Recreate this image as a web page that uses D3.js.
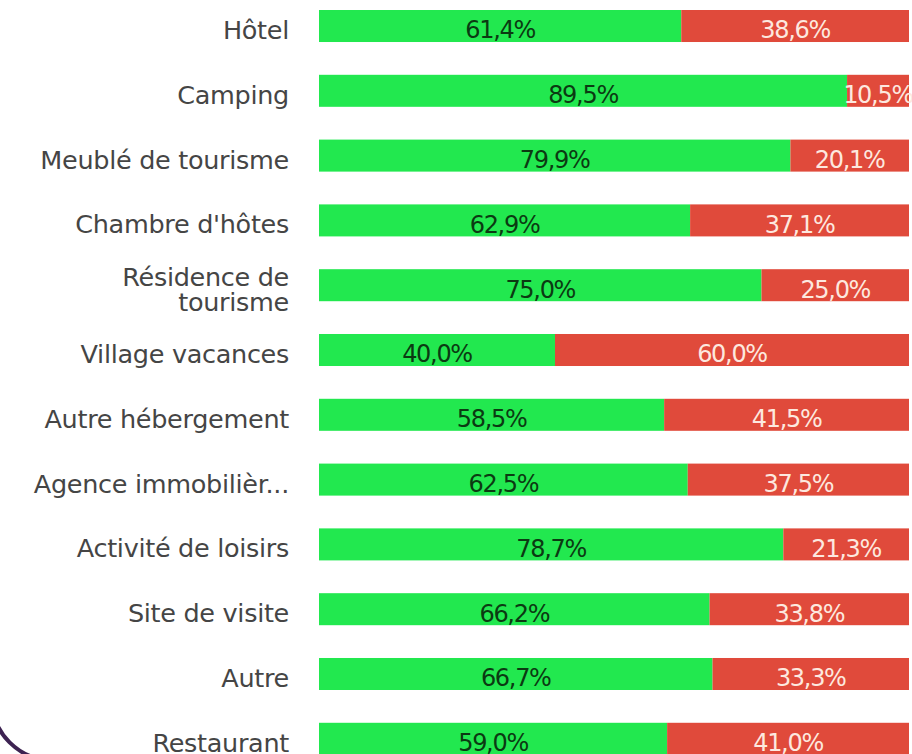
<!DOCTYPE html>
<html>
<head>
<meta charset="utf-8">
<script src="https://cdn.jsdelivr.net/npm/d3@7"></script>
<style>
  html, body { margin: 0; padding: 0; background: #fff; }
  svg { display: block; }
  .cat { font-family: "DejaVu Sans", sans-serif; font-size: 25.5px; fill: #454545; letter-spacing: -0.3px; }
  .val { font-family: "DejaVu Sans", sans-serif; font-size: 24px; letter-spacing: -1.3px; }
</style>
</head>
<body>
<svg id="chart" width="912" height="754"></svg>
<script>
// categories, top to bottom
var categories = ["Hôtel", "Camping", "Meublé de tourisme", "Chambre d'hôtes",
    "Résidence de tourisme", "Village vacances", "Autre hébergement", "Agence immobilièr...",
    "Activité de loisirs", "Site de visite", "Autre", "Restaurant"];
// share in green (first segment) and red (second segment), in %
var greenValues = [61.4, 89.5, 79.9, 62.9, 75.0, 40.0, 58.5, 62.5, 78.7, 66.2, 66.7, 59.0];
var redValues = [38.6, 10.5, 20.1, 37.1, 25.0, 60.0, 41.5, 37.5, 21.3, 33.8, 33.3, 41.0];
// line breaks used in the category labels
var labelLines = {"Résidence de tourisme": ["Résidence de", "tourisme"]};

var svg = d3.select("#chart");

var x = d3.scaleLinear().domain([0, 100]).range([319, 909]);
var y = d3.scaleBand().domain(categories).range([10, 754.8]).paddingInner(0.506).paddingOuter(0);

var fr = d3.formatLocale({decimal: ",", thousands: " ", grouping: [3], currency: ["", "€"]});
var pct = fr.format(".1f");

var rows = categories.map(function (c, i) {
    return {name: c, green: greenValues[i], red: redValues[i]};
});

// rounded frame corner visible at bottom left
svg.append("path")
    .attr("d", d3.arc()({innerRadius: 60, outerRadius: 60, startAngle: Math.PI, endAngle: Math.PI * 1.5}))
    .attr("transform", "translate(52,700)")
    .attr("fill", "none")
    .attr("stroke", "#3d2352")
    .attr("stroke-width", 4);

var g = svg.selectAll(".row").data(rows).enter()
    .append("g")
    .attr("class", "row")
    .attr("transform", d => "translate(0," + y(d.name) + ")");

g.append("rect")
    .attr("x", x(0))
    .attr("width", d => x(d.green) - x(0))
    .attr("height", y.bandwidth())
    .attr("fill", "#22e84f");

g.append("rect")
    .attr("x", d => x(d.green))
    .attr("width", d => x(d.green + d.red) - x(d.green))
    .attr("height", y.bandwidth())
    .attr("fill", "#e04a3b");

g.append("text")
    .attr("class", "val")
    .attr("x", d => (x(0) + x(d.green)) / 2)
    .attr("y", y.bandwidth() / 2)
    .attr("dy", "0.52em")
    .attr("text-anchor", "middle")
    .attr("fill", "#0b3a12")
    .text(d => pct(d.green) + "%");

g.append("text")
    .attr("class", "val")
    .attr("x", d => (x(d.green) + x(d.green + d.red)) / 2)
    .attr("y", y.bandwidth() / 2)
    .attr("dy", "0.52em")
    .attr("text-anchor", "middle")
    .attr("fill", "#fde8df")
    .text(d => pct(d.red) + "%");

var lbl = g.append("text")
    .attr("class", "cat")
    .attr("x", 289)
    .attr("y", y.bandwidth() / 2)
    .attr("text-anchor", "end");

lbl.each(function (d) {
    var lines = labelLines[d.name] || [d.name];
    var t = d3.select(this);
    var lh = 25;
    lines.forEach(function (line, k) {
        t.append("tspan")
            .attr("x", 289)
            .attr("y", y.bandwidth() / 2 + 1 + (k - (lines.length - 1) / 2) * lh)
            .attr("dy", "0.47em")
            .text(line);
    });
});
</script>
</body>
</html>
